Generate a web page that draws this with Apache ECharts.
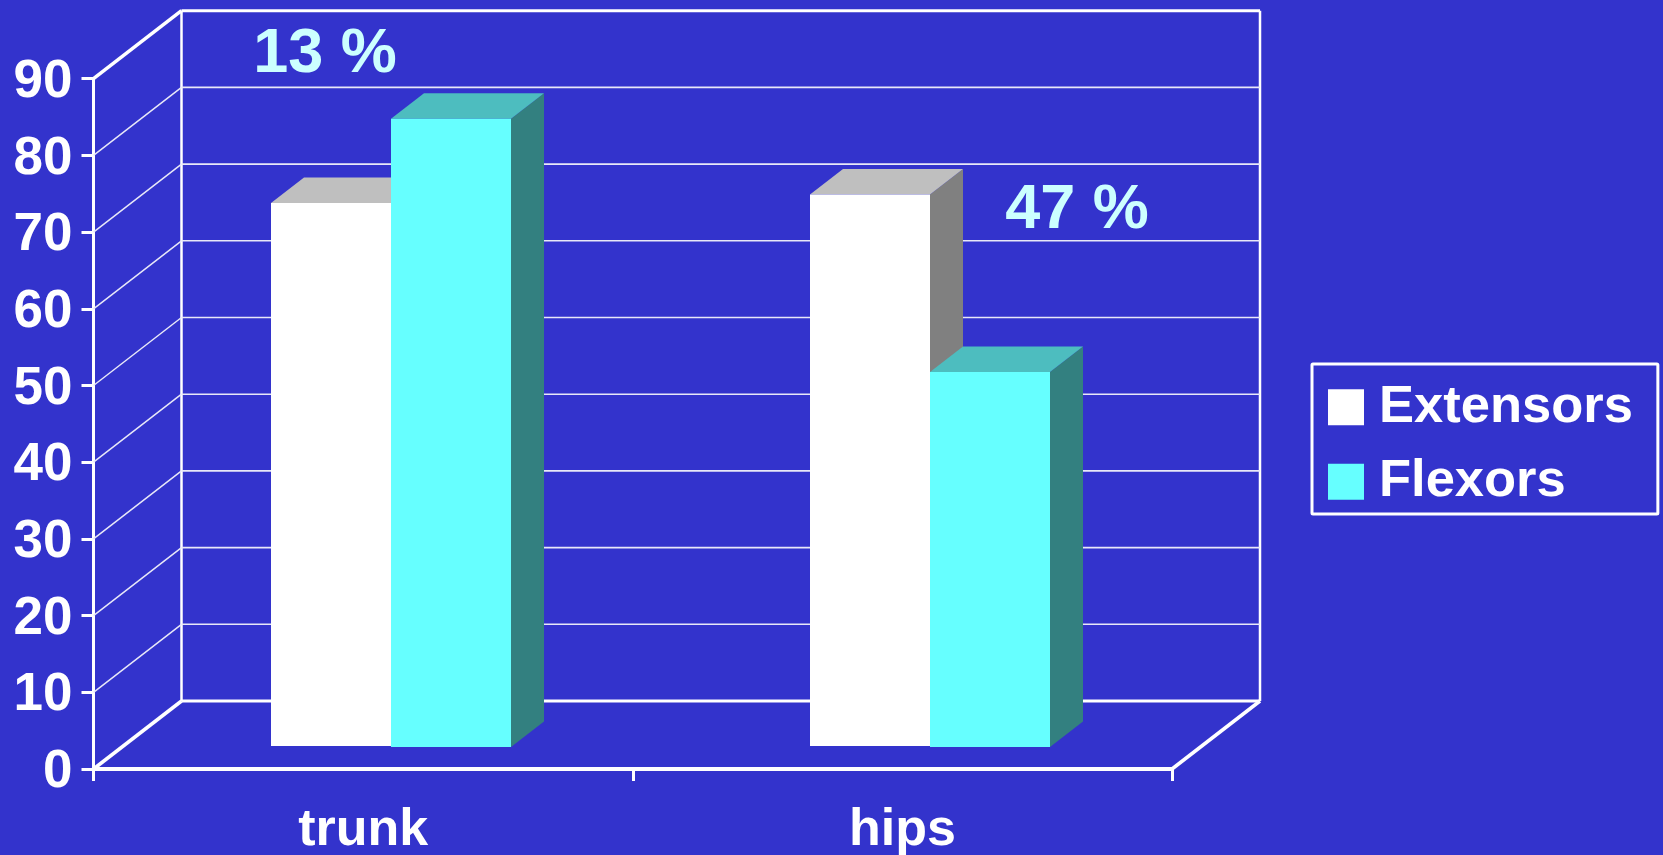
<!DOCTYPE html>
<html>
<head>
<meta charset="utf-8">
<style>
  html, body { margin: 0; padding: 0; background: #3333cc; overflow: hidden; }
  #chart { width: 1663px; height: 855px; }
</style>
<script src="https://cdn.jsdelivr.net/npm/echarts@6/dist/echarts.min.js"></script>
</head>
<body>
<div id="chart"></div>
<script>
// Muscle groups and peak values per group
const categories = ['trunk', 'hips'];
const extensors = [70.8, 71.9];
const flexors = [81.9, 48.9];
const yTicks = [0, 10, 20, 30, 40, 50, 60, 70, 80, 90];
const seriesNames = ['Extensors', 'Flexors'];
const differenceLabels = ['13 %', '47 %'];

const FONT = '"Liberation Sans", Arial, sans-serif';
const BLUE = '#3333cc';
const WALL_DX = 88, WALL_DY = -68;         // oblique offset from the front plane to the back wall
const BAR_SHIFT_X = 27.4, BAR_DEPTH_X = 33, BAR_DEPTH_Y = -25.5;
const BAR_WIDTH_RATIO = 0.2217;

const chart = echarts.init(document.getElementById('chart'), null, { renderer: 'canvas' });

function line(x1, y1, x2, y2, width, color) {
  return { type: 'line', shape: { x1, y1, x2, y2 }, style: { stroke: color, lineWidth: width, fill: null }, silent: true };
}

// Floor, back wall and the oblique rungs that join them to the value axis
function renderWall(params, api) {
  const value = api.value(0);
  const band = api.size([1, 0])[0];
  const p = api.coord([0, value]);
  const xL = p[0] - band / 2;
  const xR = xL + 2 * band;
  const y = p[1];
  const edge = value === 0 || value === yTicks[yTicks.length - 1];
  const thin = '#e8e8f8';
  const children = [
    line(xL, y, xL + WALL_DX, y + WALL_DY, edge ? 3.5 : 1.5, edge ? '#ffffff' : thin),
    line(xL + WALL_DX, y + WALL_DY, xR + WALL_DX, y + WALL_DY, edge ? 3 : 1.6, edge ? '#ffffff' : thin)
  ];
  if (value === 0) {
    const top = api.coord([0, yTicks[yTicks.length - 1]])[1] + WALL_DY;
    children.push(line(xR, y, xR + WALL_DX, y + WALL_DY, 3.5, '#ffffff'));
    children.push(line(xL + WALL_DX, y + WALL_DY, xL + WALL_DX, top, 2.5, '#ffffff'));
    children.push(line(xR + WALL_DX, y + WALL_DY, xR + WALL_DX, top, 2.5, '#ffffff'));
  }
  return { type: 'group', children };
}

// Box-shaped bar: front face, lit top and shaded side
function boxRenderer(side, lift, colors) {
  return function (params, api) {
    const idx = api.value(0);
    const top = api.coord([idx, api.value(1)]);
    const base = api.coord([idx, 0]);
    const w = api.size([1, 0])[0] * BAR_WIDTH_RATIO;
    const seam = Math.round(top[0] + BAR_SHIFT_X);
    const x0 = side < 0 ? seam - Math.round(w) : seam;
    const x1 = x0 + Math.round(w);
    const yT = top[1] - lift;
    const yB = base[1] - lift;
    const poly = (points, fill) => ({ type: 'polygon', shape: { points }, style: { fill }, silent: true });
    return {
      type: 'group',
      children: [
        poly([[x1, yT], [x1 + BAR_DEPTH_X, yT + BAR_DEPTH_Y], [x1 + BAR_DEPTH_X, yB + BAR_DEPTH_Y], [x1, yB]], colors.side),
        poly([[x0, yT], [x0 + BAR_DEPTH_X, yT + BAR_DEPTH_Y], [x1 + BAR_DEPTH_X, yT + BAR_DEPTH_Y], [x1, yT]], colors.top),
        poly([[x0, yT], [x1, yT], [x1, yB], [x0, yB]], colors.front)
      ]
    };
  };
}

const axisLabelStyle = { color: '#ffffff', fontFamily: FONT, fontWeight: 'bold' };

chart.setOption({
  animation: false,
  backgroundColor: BLUE,
  grid: { left: 93.5, top: 78.7, width: 1078.5, height: 690.3, containLabel: false, outerBoundsMode: 'none' },
  xAxis: {
    type: 'category',
    data: categories,
    axisLine: { lineStyle: { color: '#ffffff', width: 4 } },
    axisTick: { show: true, inside: false, length: 12, lineStyle: { color: '#ffffff', width: 3 } },
    axisLabel: Object.assign({ fontSize: 52, margin: 36, interval: 0 }, axisLabelStyle),
    splitLine: { show: false }
  },
  yAxis: {
    type: 'value',
    min: 0,
    max: 90,
    interval: 10,
    axisLine: { show: true, lineStyle: { color: '#ffffff', width: 3 } },
    axisTick: { show: true, inside: false, length: 12, lineStyle: { color: '#ffffff', width: 3 } },
    axisLabel: {
      margin: 21,
      formatter: '{v|{value}}',
      rich: { v: { color: '#ffffff', fontFamily: FONT, fontWeight: 'bold', fontSize: 53, padding: [7, 0, 0, 0] } }
    },
    splitLine: { show: false }
  },
  legend: {
    orient: 'vertical',
    left: 1312,
    top: 364,
    data: seriesNames.map(name => ({ name, icon: 'rect' })),
    itemWidth: 36,
    itemHeight: 36,
    itemGap: 21.5,
    padding: [16.75, 25, 5.75, 16],
    borderColor: '#ffffff',
    borderWidth: 3,
    borderRadius: 1,
    selectedMode: false,
    textStyle: { color: '#ffffff', fontFamily: FONT, fontWeight: 'bold', fontSize: 52.5, padding: [12, 0, 0, 10] }
  },
  series: [
    {
      type: 'custom', name: 'wall', z: 1, clip: false, silent: true,
      coordinateSystem: 'cartesian2d',
      data: yTicks.map(v => [v]),
      encode: { y: 0 },
      renderItem: renderWall
    },
    {
      type: 'custom', name: seriesNames[0], z: 3, clip: false, silent: true,
      itemStyle: { color: '#ffffff' },
      data: extensors.map((v, i) => [i, v]),
      encode: { x: 0, y: 1 },
      renderItem: boxRenderer(-1, 23, { front: '#ffffff', top: '#bfbfbf', side: '#808080' })
    },
    {
      type: 'custom', name: seriesNames[1], z: 4, clip: false, silent: true,
      itemStyle: { color: '#66ffff' },
      data: flexors.map((v, i) => [i, v]),
      encode: { x: 0, y: 1 },
      renderItem: boxRenderer(1, 22, { front: '#66ffff', top: '#4dbdbf', side: '#338080' })
    }
  ],
  graphic: [
    { type: 'text', x: 325, y: 55, z: 10, silent: true, style: { text: differenceLabels[0], fill: '#ccffff', font: 'bold 63px ' + FONT, textAlign: 'center', textVerticalAlign: 'middle' } },
    { type: 'text', x: 1077, y: 211, z: 10, silent: true, style: { text: differenceLabels[1], fill: '#ccffff', font: 'bold 63px ' + FONT, textAlign: 'center', textVerticalAlign: 'middle' } }
  ]
});
</script>
</body>
</html>
